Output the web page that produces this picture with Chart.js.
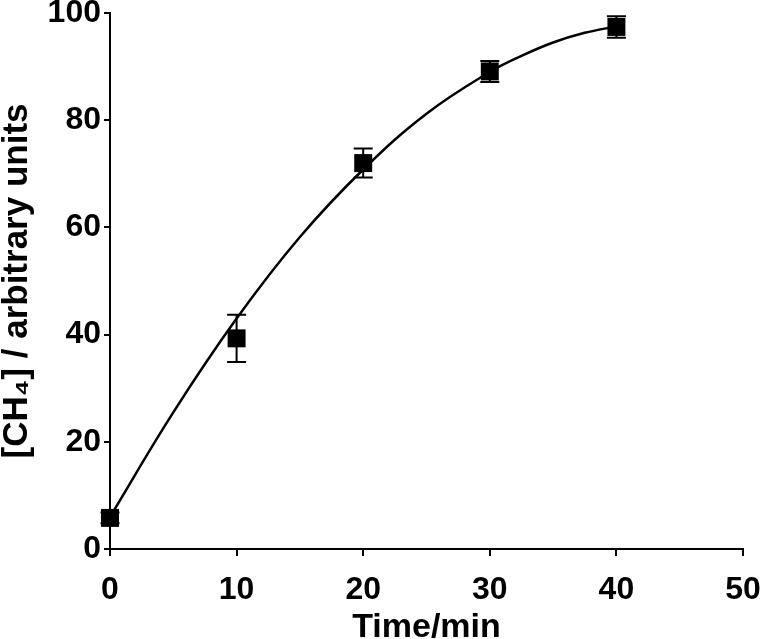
<!DOCTYPE html>
<html>
<head>
<meta charset="utf-8">
<script src="https://cdn.jsdelivr.net/npm/chart.js@4.4.1/dist/chart.umd.min.js"></script>
<style>
  html, body { margin: 0; padding: 0; background: #fff; overflow: hidden; }
  #wrap { width: 762px; height: 639px; }
</style>
</head>
<body>
<div id="wrap"><canvas id="c" width="762" height="639"></canvas></div>
<script>
// Measured data (Time/min vs [CH4])
const times = [0, 10, 20, 30, 40];
const means = [5.8, 39.3, 72.0, 89.1, 97.4];
const errs  = [1.0, 4.4, 2.7, 1.95, 2.0];

// Fitted curve
const fitX = [0, 5, 10, 15, 20, 25, 30, 32.5, 35, 37.5, 40];
const fitY = [6.0, 25.5, 43.0, 58.2, 70.8, 81.2, 89.0, 92.0, 94.5, 96.3, 97.5];

const xTicks = [0, 10, 20, 30, 40, 50];
const yTicks = [0, 20, 40, 60, 80, 100];

const FONT = "'Liberation Sans', Arial, Helvetica, sans-serif";

// Fixed plot frame
const AREA = { left: 110, top: 13, right: 743, bottom: 549 };

const fixFrame = {
  id: 'fixFrame',
  afterLayout(chart) {
    const a = AREA;
    chart.chartArea = { left: a.left, top: a.top, right: a.right, bottom: a.bottom,
                        width: a.right - a.left, height: a.bottom - a.top };
    const xs = chart.scales.x, ys = chart.scales.y;
    xs.left = a.left; xs.right = a.right; xs.width = a.right - a.left;
    xs.top = a.bottom; xs.bottom = chart.height + 2; xs.height = xs.bottom - a.bottom;
    xs.configure();
    ys.left = 0; ys.right = a.left; ys.width = a.left;
    ys.top = a.top; ys.bottom = a.bottom; ys.height = a.bottom - a.top;
    ys.configure();
  }
};

const errorBars = {
  id: 'errorBars',
  beforeDatasetsDraw(chart) {
    const ctx = chart.ctx;
    const xs = chart.scales.x, ys = chart.scales.y;
    ctx.save();
    ctx.strokeStyle = '#000';
    ctx.lineWidth = 2;
    times.forEach((t, i) => {
      const px = xs.getPixelForValue(t);
      const top = ys.getPixelForValue(means[i] + errs[i]);
      const bot = ys.getPixelForValue(means[i] - errs[i]);
      const cap = 9.5;
      ctx.beginPath();
      ctx.moveTo(px, top); ctx.lineTo(px, bot);
      ctx.moveTo(px - cap, top); ctx.lineTo(px + cap, top);
      ctx.moveTo(px - cap, bot); ctx.lineTo(px + cap, bot);
      ctx.stroke();
    });
    ctx.restore();
  }
};

new Chart(document.getElementById('c'), {
  type: 'scatter',
  data: {
    datasets: [
      {
        type: 'line',
        data: fitX.map((x, i) => ({ x: x, y: fitY[i] })),
        borderColor: '#000',
        borderWidth: 2.5,
        pointRadius: 0,
        fill: false,
        clip: false,
        tension: 0.4,
        order: 2
      },
      {
        data: times.map((t, i) => ({ x: t, y: means[i] })),
        pointStyle: 'rect',
        pointRadius: 12.7,
        pointHoverRadius: 12.7,
        backgroundColor: '#000',
        borderColor: '#000',
        borderWidth: 0,
        clip: false,
        order: 1
      }
    ]
  },
  options: {
    responsive: false,
    animation: false,
    events: [],
    layout: { padding: { top: 13, right: 19, left: 0, bottom: 0 } },
    plugins: { legend: { display: false }, tooltip: { enabled: false } },
    scales: {
      x: {
        type: 'linear',
        min: 0, max: 50,
        afterBuildTicks: s => { s.ticks = xTicks.map(v => ({ value: v })); },
        afterFit: s => { s.height = 90; },
        grid: { display: true, drawOnChartArea: false, drawTicks: true, tickLength: 7, color: '#000', lineWidth: 2 },
        border: { display: true, color: '#000', width: 2 },
        ticks: { color: '#000', padding: 15, maxRotation: 0, font: { family: FONT, size: 32, weight: 'bold' } },
        title: { display: true, text: 'Time/min', color: '#000', padding: 0, font: { family: FONT, size: 34, weight: 'bold', lineHeight: 0.8 } }
      },
      y: {
        type: 'linear',
        min: 0, max: 100,
        afterBuildTicks: s => { s.ticks = yTicks.map(v => ({ value: v })); },
        afterFit: s => { s.width = 110; },
        grid: { display: true, drawOnChartArea: false, drawTicks: true, tickLength: 6, color: '#000', lineWidth: 2 },
        border: { display: true, color: '#000', width: 2 },
        ticks: { color: '#000', padding: 3, font: { family: FONT, size: 32, weight: 'bold', lineHeight: 0.8 } },
        title: { display: true, text: '[CH₄] / arbitrary units', color: '#000', padding: 0, font: { family: FONT, size: 35, weight: 'bold', lineHeight: 1 } }
      }
    }
  },
  plugins: [fixFrame, errorBars]
});
</script>
</body>
</html>
